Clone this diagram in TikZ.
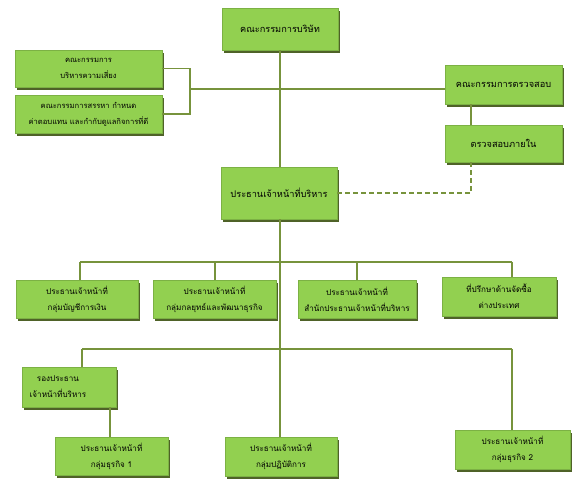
\documentclass[tikz,border=0pt]{standalone}
\usepackage{fontspec}
\newfontfamily\thaifont[Script=Thai]{Loma}
\usetikzlibrary{shadows}
\definecolor{boxgreen}{HTML}{92D050}
\definecolor{shadowgreen}{HTML}{4F6228}
\definecolor{linegreen}{HTML}{77933C}
\tikzset{
  orgbox/.style={fill=boxgreen, draw=boxgreen!85!black, line width=0.3pt, inner sep=2pt, align=center,
    font=\thaifont\fontsize{8.1}{16}\selectfont, text=black,
    general shadow={fill=shadowgreen, shadow xshift=2.2pt, shadow yshift=-2.6pt}},
  bigbox/.style={orgbox, font=\thaifont\fontsize{9.2}{16}\selectfont},
  conn/.style={draw=linegreen, line width=1.7pt},
  dconn/.style={draw=linegreen, line width=1.7pt, dash pattern=on 5pt off 3pt}
}
\begin{document}
\begin{tikzpicture}[x=1pt,y=-1pt]
\useasboundingbox (0,0) rectangle (582,484);
% nodes
\node[bigbox, minimum width=116pt, minimum height=42pt] (board) at (280,29) {คณะกรรมการบริษัท};
\node[orgbox, font=\thaifont\fontsize{7.6}{16}\selectfont, minimum width=147pt, minimum height=37pt] (risk) at (88.5,68.5) {คณะกรรมการ\\บริหารความเสี่ยง};
\node[orgbox, font=\thaifont\fontsize{7.6}{16}\selectfont, minimum width=147pt, minimum height=38pt] (nom) at (88.5,114) {คณะกรรมการสรรหา กำหนด\\ค่าตอบแทน และกำกับดูแลกิจการที่ดี};
\node[bigbox, minimum width=117pt, minimum height=39pt] (audit) at (503.5,84.5) {คณะกรรมการตรวจสอบ};
\node[bigbox, minimum width=117pt, minimum height=37pt] (internal) at (503.5,143.5) {ตรวจสอบภายใน};
\node[bigbox, minimum width=116pt, minimum height=52pt] (ceo) at (279,193) {ประธานเจ้าหน้าที่บริหาร};
\node[orgbox, minimum width=122pt, minimum height=38pt] (fin) at (77,299) {ประธานเจ้าหน้าที่\\กลุ่มบัญชีการเงิน};
\node[orgbox, minimum width=123pt, minimum height=38pt] (strat) at (214.5,299) {ประธานเจ้าหน้าที่\\กลุ่มกลยุทธ์และพัฒนาธุรกิจ};
\node[orgbox, minimum width=118pt, minimum height=38pt] (office) at (357,299) {ประธานเจ้าหน้าที่\\สำนักประธานเจ้าหน้าที่บริหาร};
\node[orgbox, minimum width=114pt, minimum height=39pt] (adv) at (499,296.5) {ที่ปรึกษาด้านจัดซื้อ\\ต่างประเทศ};
\node[orgbox, minimum width=94pt, minimum height=40pt] (vp) at (69,387) {รองประธาน\hspace*{22pt}\\เจ้าหน้าที่บริหาร\hspace*{22pt}};
\node[orgbox, minimum width=113pt, minimum height=38pt] (biz1) at (111.5,456) {ประธานเจ้าหน้าที่\\กลุ่มธุรกิจ 1};
\node[orgbox, minimum width=112pt, minimum height=39pt] (ops) at (281,456.5) {ประธานเจ้าหน้าที่\\กลุ่มปฏิบัติการ};
\node[orgbox, minimum width=115pt, minimum height=39pt] (biz2) at (512.5,449.5) {ประธานเจ้าหน้าที่\\กลุ่มธุรกิจ 2};
% helper coordinates
\coordinate (j1) at (190,89);
\coordinate (dx) at (471,0);
\coordinate (busA) at (280,262);
\coordinate (busB) at (280,349);
\coordinate (m) at (280,0);
\coordinate (x1) at (80,0);
\coordinate (x2) at (215,0);
\coordinate (x3) at (357,0);
\coordinate (x4) at (512,0);
\coordinate (x5) at (82,0);
\coordinate (x6) at (110,0);
% connectors
\draw[conn] (board.south -| m) -- (ceo.north -| m);
\draw[conn] (risk.east) -| (j1) |- (nom.east);
\draw[conn] (j1) -- (j1 -| audit.west);
\draw[conn] (audit.south -| dx) -- (internal.north -| dx);
\draw[dconn] (internal.south -| dx) |- (ceo.east);
\draw[conn] (ceo.south -| m) -- (ops.north -| m);
\draw[conn] (busA -| x1) -- (busA -| x4);
\draw[conn] (busA -| x1) -- (fin.north -| x1);
\draw[conn] (busA -| x2) -- (strat.north -| x2);
\draw[conn] (busA -| x3) -- (office.north -| x3);
\draw[conn] (busA -| x4) -- (adv.north -| x4);
\draw[conn] (busB -| x5) -- (busB -| x4);
\draw[conn] (busB -| x5) -- (vp.north -| x5);
\draw[conn] (busB -| x4) -- (biz2.north -| x4);
\draw[conn] (vp.south -| x6) -- (biz1.north -| x6);
\end{tikzpicture}
\end{document}
